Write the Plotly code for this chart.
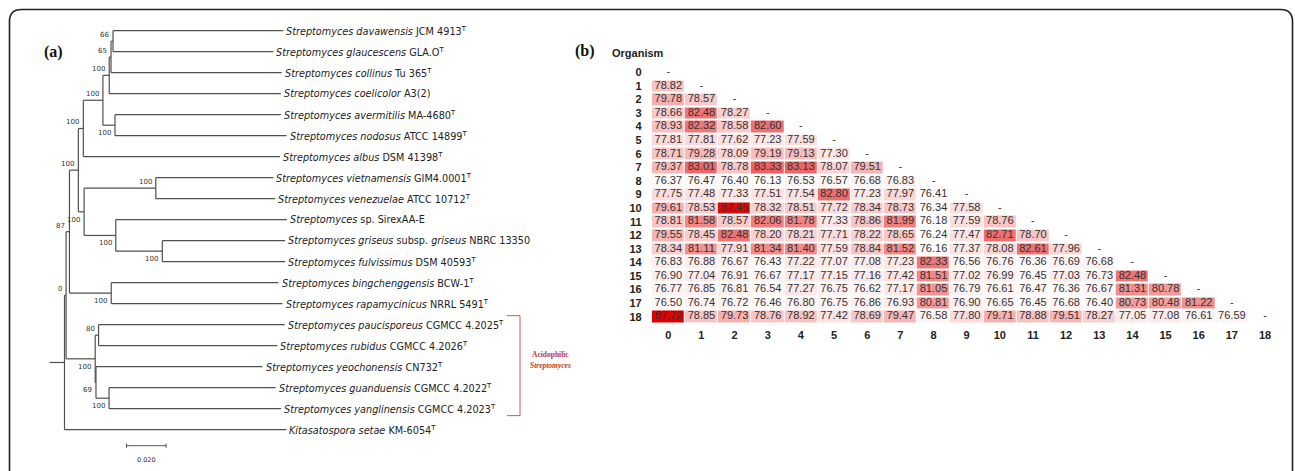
import plotly.graph_objects as go

W, H = 1295, 471

# ---------------- data ----------------
# Phylogenetic tree (MEGA-like), branch lengths in substitutions/site, internal labels = bootstrap
newick = ("(((((((((L0:0.0860,L1:0.0810)66:0.0010,L2:0.0862)65:0.0009,L3:0.0867)100:0.0032,"
          "(L4:0.0838,L5:0.0867)100:0.0061)100:0.0099,L6:0.0993)100:0.0025,"
          "((L7:0.0594,L8:0.0603)100:0.0362,(L9:0.0864,(L10:0.0620,L11:0.0620)100:0.0235)100:0.0160)100:0.0029)100:0.0045,"
          "(L12:0.0845,L13:0.0865)100:0.0211)87:0.0017,"
          "((L14:0.0940,L15:0.0903)80:0.0017,(L16:0.0841,(L17:0.0841,L18:0.0869)100:0.0066)69:0.0004)100:0.0147)0:0.0008,"
          "L19:0.1121):0.0076;")

leaf_labels = [
    "<i>Streptomyces davawensis</i> JCM 4913<sup>T</sup>",
    "<i>Streptomyces glaucescens</i> GLA.O<sup>T</sup>",
    "<i>Streptomyces collinus</i> Tu 365<sup>T</sup>",
    "<i>Streptomyces coelicolor</i> A3(2)",
    "<i>Streptomyces avermitilis</i> MA-4680<sup>T</sup>",
    "<i>Streptomyces nodosus</i> ATCC 14899<sup>T</sup>",
    "<i>Streptomyces albus</i> DSM 41398<sup>T</sup>",
    "<i>Streptomyces vietnamensis</i> GIM4.0001<sup>T</sup>",
    "<i>Streptomyces venezuelae</i> ATCC 10712<sup>T</sup>",
    "<i>Streptomyces</i> sp. SirexAA-E",
    "<i>Streptomyces griseus</i> subsp. <i>griseus</i> NBRC 13350",
    "<i>Streptomyces fulvissimus</i> DSM 40593<sup>T</sup>",
    "<i>Streptomyces bingchenggensis</i> BCW-1<sup>T</sup>",
    "<i>Streptomyces rapamycinicus</i> NRRL 5491<sup>T</sup>",
    "<i>Streptomyces paucisporeus</i> CGMCC 4.2025<sup>T</sup>",
    "<i>Streptomyces rubidus</i> CGMCC 4.2026<sup>T</sup>",
    "<i>Streptomyces yeochonensis</i> CN732<sup>T</sup>",
    "<i>Streptomyces guanduensis</i> CGMCC 4.2022<sup>T</sup>",
    "<i>Streptomyces yanglinensis</i> CGMCC 4.2023<sup>T</sup>",
    "<i>Kitasatospora setae</i> KM-6054<sup>T</sup>",
]
acidophilic_leaves = [14, 18]
scale_value = 0.020

# ANI heatmap (lower triangle)
org_ids = [str(i) for i in range(19)]
ani_lower = [
    [],
    [78.82],
    [79.78, 78.57],
    [78.66, 82.48, 78.27],
    [78.93, 82.32, 78.58, 82.60],
    [77.81, 77.81, 77.62, 77.23, 77.59],
    [78.71, 79.28, 78.09, 79.19, 79.13, 77.30],
    [79.37, 83.01, 78.78, 83.33, 83.13, 78.07, 79.51],
    [76.37, 76.47, 76.40, 76.13, 76.53, 76.57, 76.68, 76.83],
    [77.75, 77.48, 77.33, 77.51, 77.54, 82.80, 77.23, 77.97, 76.41],
    [79.61, 78.53, 87.45, 78.32, 78.51, 77.72, 78.34, 78.73, 76.34, 77.58],
    [78.81, 81.58, 78.57, 82.06, 81.78, 77.33, 78.86, 81.99, 76.18, 77.59, 78.76],
    [79.55, 78.45, 82.48, 78.20, 78.21, 77.71, 78.22, 78.65, 76.24, 77.47, 82.71, 78.70],
    [78.34, 81.11, 77.91, 81.34, 81.40, 77.59, 78.84, 81.52, 76.16, 77.37, 78.08, 82.61, 77.96],
    [76.83, 76.88, 76.67, 76.43, 77.22, 77.07, 77.08, 77.23, 82.33, 76.56, 76.76, 76.36, 76.69, 76.68],
    [76.90, 77.04, 76.91, 76.67, 77.17, 77.15, 77.16, 77.42, 81.51, 77.02, 76.99, 76.45, 77.03, 76.73, 82.48],
    [76.77, 76.85, 76.81, 76.54, 77.27, 76.75, 76.62, 77.17, 81.05, 76.79, 76.61, 76.47, 76.36, 76.67, 81.31, 80.78],
    [76.50, 76.74, 76.72, 76.46, 76.80, 76.75, 76.86, 76.93, 80.81, 76.90, 76.65, 76.45, 76.68, 76.40, 80.73, 80.48, 81.22],
    [87.72, 78.85, 79.73, 78.76, 78.92, 77.42, 78.69, 79.47, 76.58, 77.80, 79.71, 78.88, 79.51, 78.27, 77.05, 77.08, 76.61, 76.59],
]

# ---------------- helpers ----------------
def fx(px):
    return px / W

def fy(py):
    return 1 - py / H

def parse_newick(s):
    pos = 0

    def node():
        nonlocal pos
        children = []
        if s[pos] == "(":
            pos += 1
            children.append(node())
            while s[pos] == ",":
                pos += 1
                children.append(node())
            assert s[pos] == ")"
            pos += 1
        start = pos
        while s[pos] not in ":,);":
            pos += 1
        name = s[start:pos]
        length = 0.0
        if s[pos] == ":":
            pos += 1
            start = pos
            while s[pos] not in ",);":
                pos += 1
            length = float(s[start:pos])
        return {"name": name, "len": length, "children": children}

    return node()

# ---------------- tree layout ----------------
tree = parse_newick(newick)

def layout(n, x):
    n["x"] = x
    if not n["children"]:
        n["y"] = int(n["name"][1:])
    else:
        for c in n["children"]:
            layout(c, x + c["len"])
        n["y"] = (n["children"][0]["y"] + n["children"][-1]["y"]) / 2

layout(tree, 0.0)

lx, ly = [], []
boot = []
leaves = []

def collect(n, parent=None, upper=True):
    if parent is not None:
        lx.extend([parent["x"], n["x"], None]); ly.extend([n["y"], n["y"], None])
    if n["children"]:
        lx.extend([n["x"], n["x"], None])
        ly.extend([n["children"][0]["y"], n["children"][-1]["y"], None])
        if parent is not None and n["name"] != "":
            boot.append((n["x"], n["y"], n["name"], upper))
        for i, c in enumerate(n["children"]):
            collect(c, n, i == 0)
    else:
        leaves.append(n)

collect(tree)
# root stub
lx.extend([-tree["len"], 0.0, None]); ly.extend([tree["y"], tree["y"], None])

# pixel mapping for tree axes
ROOT_PX = 64.5
PPU = 1980.0
LEAF0_PX = 30.7
LEAF_STEP = 21.0
TX0, TX1 = 20, 600
TY0, TY1 = 20, 471

def ux(px):
    return (px - ROOT_PX) / PPU

def uy(py):
    return (py - LEAF0_PX) / LEAF_STEP

fig = go.Figure()

fig.add_trace(go.Scatter(x=lx, y=ly, mode="lines", xaxis="x2", yaxis="y2",
                         line=dict(color="#505050", width=1.2), hoverinfo="skip"))

annotations = []
for lf in leaves:
    annotations.append(dict(x=lf["x"], y=lf["y"], xref="x2", yref="y2", text=leaf_labels[lf["y"]],
                            showarrow=False, xanchor="left", yanchor="middle", xshift=1,
                            font=dict(family="DejaVu Sans", size=9.7, color="#222222")))
for (bx, by, txt, upper) in boot:
    annotations.append(dict(x=bx, y=by, xref="x2", yref="y2", text=txt, showarrow=False,
                            xanchor="right", yanchor="middle", xshift=-2,
                            yshift=6 if upper else -8,
                            font=dict(family="DejaVu Sans", size=7, color="#333333")))

# scale bar
sb0 = ux(126.5)
sby = uy(445.7)
fig.add_trace(go.Scatter(x=[sb0, sb0 + scale_value, None, sb0, sb0, None, sb0 + scale_value, sb0 + scale_value],
                         y=[sby, sby, None, sby - 0.1, sby + 0.1, None, sby - 0.1, sby + 0.1],
                         mode="lines", xaxis="x2", yaxis="y2",
                         line=dict(color="#555555", width=1), hoverinfo="skip"))
annotations.append(dict(x=sb0 + scale_value / 2, y=uy(459.5), xref="x2", yref="y2",
                        text=f"{scale_value:.3f}", showarrow=False,
                        font=dict(family="DejaVu Sans", size=6.5, color="#333333")))

# acidophilic bracket
a0, a1 = acidophilic_leaves
bx_r, bx_l = ux(520), ux(507)
fig.add_trace(go.Scatter(x=[bx_l, bx_r, bx_r, bx_l], y=[a0 - 0.43, a0 - 0.43, a1 + 0.33, a1 + 0.33],
                         mode="lines", xaxis="x2", yaxis="y2",
                         line=dict(color="#cc5555", width=1), hoverinfo="skip"))
annotations.append(dict(x=fx(550), y=fy(361), xref="paper", yref="paper",
                        text="<b>Acidophilic</b>", showarrow=False,
                        font=dict(family="Liberation Serif", size=7.5, color="#c0392b")))
annotations.append(dict(x=fx(550), y=fy(371.5), xref="paper", yref="paper",
                        text="<b><i>Streptomyces</i></b>", showarrow=False,
                        font=dict(family="Liberation Serif", size=7.5, color="#c0392b")))

# ---------------- heatmap ----------------
n = len(org_ids)
z = [[None] * n for _ in range(n)]
tx, ty, tt = [], [], []
for i, row in enumerate(ani_lower):
    for j, v in enumerate(row):
        z[i][j] = v
        tx.append(j); ty.append(i); tt.append(f"{v:.2f}")
    tx.append(i); ty.append(i); tt.append("-")

vals = [v for r in ani_lower for v in r]
fig.add_trace(go.Heatmap(z=z, x=list(range(n)), y=list(range(n)),
                         colorscale=[[0, "rgb(255,255,255)"], [1, "rgb(225,0,0)"]],
                         zmin=min(vals), zmax=max(vals), showscale=False,
                         xgap=1, ygap=2, hoverinfo="skip"))
fig.add_trace(go.Scatter(x=tx, y=ty, text=tt, mode="text", hoverinfo="skip",
                         textfont=dict(family="Liberation Sans, Arial", size=11, color="#333333")))

annotations.append(dict(x=fx(610), y=fy(53.3), xref="paper", yref="paper", text="<b>Organism</b>",
                        showarrow=False, xanchor="left", yanchor="middle",
                        font=dict(family="Liberation Sans, Arial", size=11, color="#222222")))
annotations.append(dict(x=fx(42), y=fy(41), xref="paper", yref="paper", text="<b>(a)</b>",
                        showarrow=False, font=dict(family="Liberation Serif", size=16, color="#111111")))
annotations.append(dict(x=fx(585), y=fy(40.5), xref="paper", yref="paper", text="<b>(b)</b>",
                        showarrow=False, font=dict(family="Liberation Serif", size=16, color="#111111")))

# frame
L, R, T, rad = 9.5, 1292.5, 9.5, 12
path = (f"M {fx(L)},{fy(490)} L {fx(L)},{fy(T + rad)} Q {fx(L)},{fy(T)} {fx(L + rad)},{fy(T)} "
        f"L {fx(R - rad)},{fy(T)} Q {fx(R)},{fy(T)} {fx(R)},{fy(T + rad)} L {fx(R)},{fy(490)}")
shapes = [dict(type="path", xref="paper", yref="paper", path=path,
               line=dict(color="#222222", width=1.6))]

HX0, HX1 = 651.7, 1281.6
HY0, HY1 = 65.5, 323.5
tickfont = dict(family="Liberation Sans, Arial", size=11, color="#222222", weight="bold")

fig.update_layout(
    width=W, height=H, margin=dict(l=0, r=0, t=0, b=0),
    paper_bgcolor="white", plot_bgcolor="white", showlegend=False,
    annotations=annotations, shapes=shapes,
    xaxis=dict(domain=[fx(HX0), fx(HX1)], range=[-0.5, n - 0.5], tickvals=list(range(n)),
               ticktext=org_ids, tickfont=tickfont, showgrid=False, zeroline=False,
               showline=False, ticks="", ticklabelstandoff=3, anchor="y", fixedrange=True),
    yaxis=dict(domain=[fy(HY1), fy(HY0)], range=[n - 0.5, -0.5], tickvals=list(range(n)),
               ticktext=org_ids, tickfont=tickfont, showgrid=False, zeroline=False,
               showline=False, ticks="", ticklabelstandoff=9, anchor="x", fixedrange=True),
    xaxis2=dict(domain=[fx(TX0), fx(TX1)], range=[ux(TX0), ux(TX1)], visible=False, anchor="y2"),
    yaxis2=dict(domain=[fy(TY1), fy(TY0)], range=[uy(TY1), uy(TY0)], visible=False, anchor="x2"),
)

fig.write_html("out.html", config={"displayModeBar": False},
               post_script="document.body.style.margin='0px';document.body.style.overflow='hidden';")
